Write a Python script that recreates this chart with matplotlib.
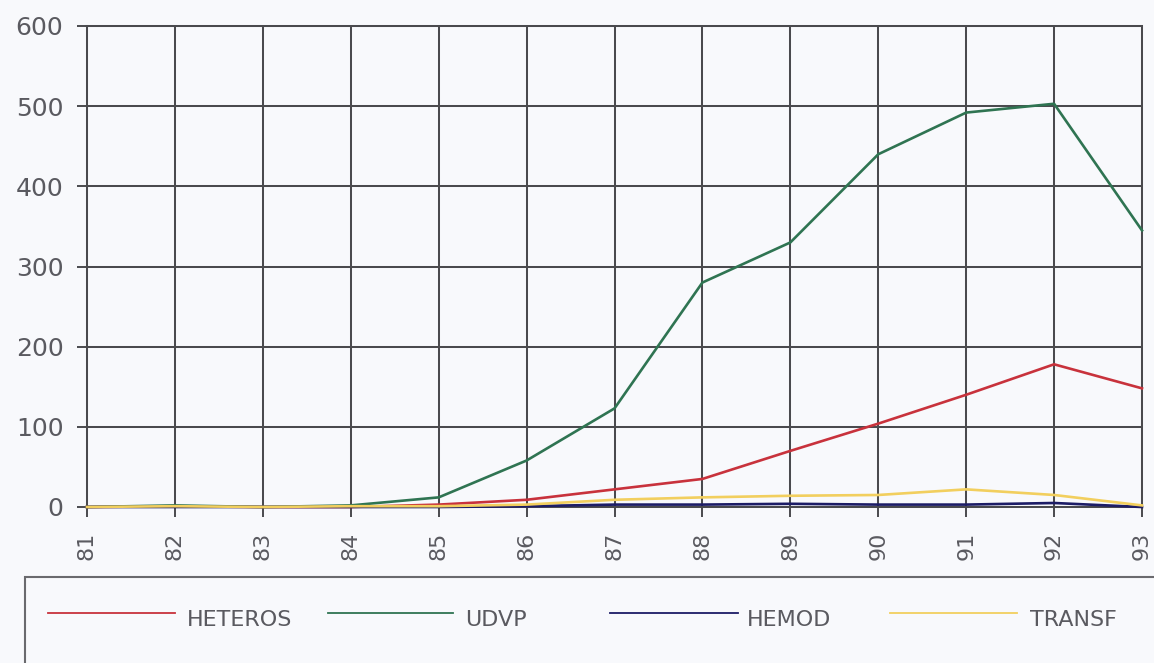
import numpy as np
import matplotlib
matplotlib.use("Agg")
import matplotlib.pyplot as plt
from matplotlib.patches import Rectangle
from matplotlib.lines import Line2D

years = [81, 82, 83, 84, 85, 86, 87, 88, 89, 90, 91, 92, 93]
year_labels = [str(y) for y in years]
heteros = [0, 1, 0, 0, 3, 9, 22, 35, 70, 104, 140, 178, 148]
udvp = [0, 2, 0, 2, 12, 58, 123, 280, 330, 440, 492, 503, 345]
hemod = [0, 0, 0, 0, 0, 1, 3, 3, 4, 3, 3, 5, 0]
transf = [0, 1, 0, 1, 1, 3, 9, 12, 14, 15, 22, 15, 2]
y_ticks = [0, 100, 200, 300, 400, 500, 600]

series = [
    ("HETEROS", heteros, "#c8323c"),
    ("UDVP", udvp, "#2f7452"),
    ("HEMOD", hemod, "#1c1c66"),
    ("TRANSF", transf, "#f2cf5e"),
]

bg = "#f8f9fc"
grid_col = "#4a4a4e"
text_col = "#5a5a60"

W, H = 1154, 663
fig = plt.figure(figsize=(W / 100, H / 100), dpi=100, facecolor=bg)
ax = fig.add_axes([87 / W, 1 - 507 / H, (1142 - 87) / W, (507 - 26) / H])
ax.set_facecolor(bg)

x = np.arange(len(years))
for name, vals, col in series:
    ax.plot(x, vals, color=col, lw=1.9, zorder=3, clip_on=False,
            solid_joinstyle="round")

ax.set_xlim(0, len(years) - 1)
ax.set_ylim(0, 600)
ax.set_xticks(x)
ax.set_xticklabels(year_labels, rotation=90, fontsize=16, color=text_col)
ax.set_yticks(y_ticks)
ax.set_yticklabels([str(v) for v in y_ticks], fontsize=18, color=text_col)
ax.tick_params(axis="both", direction="out", length=7, width=1.4, color=grid_col)
ax.tick_params(axis="y", pad=10)
ax.tick_params(axis="x", pad=11)
ax.grid(True, color=grid_col, lw=1.45, zorder=1)
ax.set_axisbelow(True)
for sp in ax.spines.values():
    sp.set_color(grid_col)
    sp.set_linewidth(1.45)

# Legend box along the bottom
fig.patches.append(Rectangle((25 / W, -0.05), 1.2, (H - 577) / H + 0.05,
                             transform=fig.transFigure, facecolor="none",
                             edgecolor="#6a6a6e", lw=1.5, clip_on=False))
line_y = 1 - 613 / H
text_y = 1 - 620 / H
entries = [(48, 175, 187), (328, 453, 465), (610, 738, 747), (890, 1017, 1030)]
for (name, vals, col), (x0, x1, xt) in zip(series, entries):
    fig.lines.append(Line2D([x0 / W, x1 / W], [line_y, line_y],
                            transform=fig.transFigure, color=col, lw=1.3))
    fig.text(xt / W, text_y, name, fontsize=16, color=text_col,
             va="center", ha="left")

fig.savefig("out.png", dpi=100, facecolor=bg)
